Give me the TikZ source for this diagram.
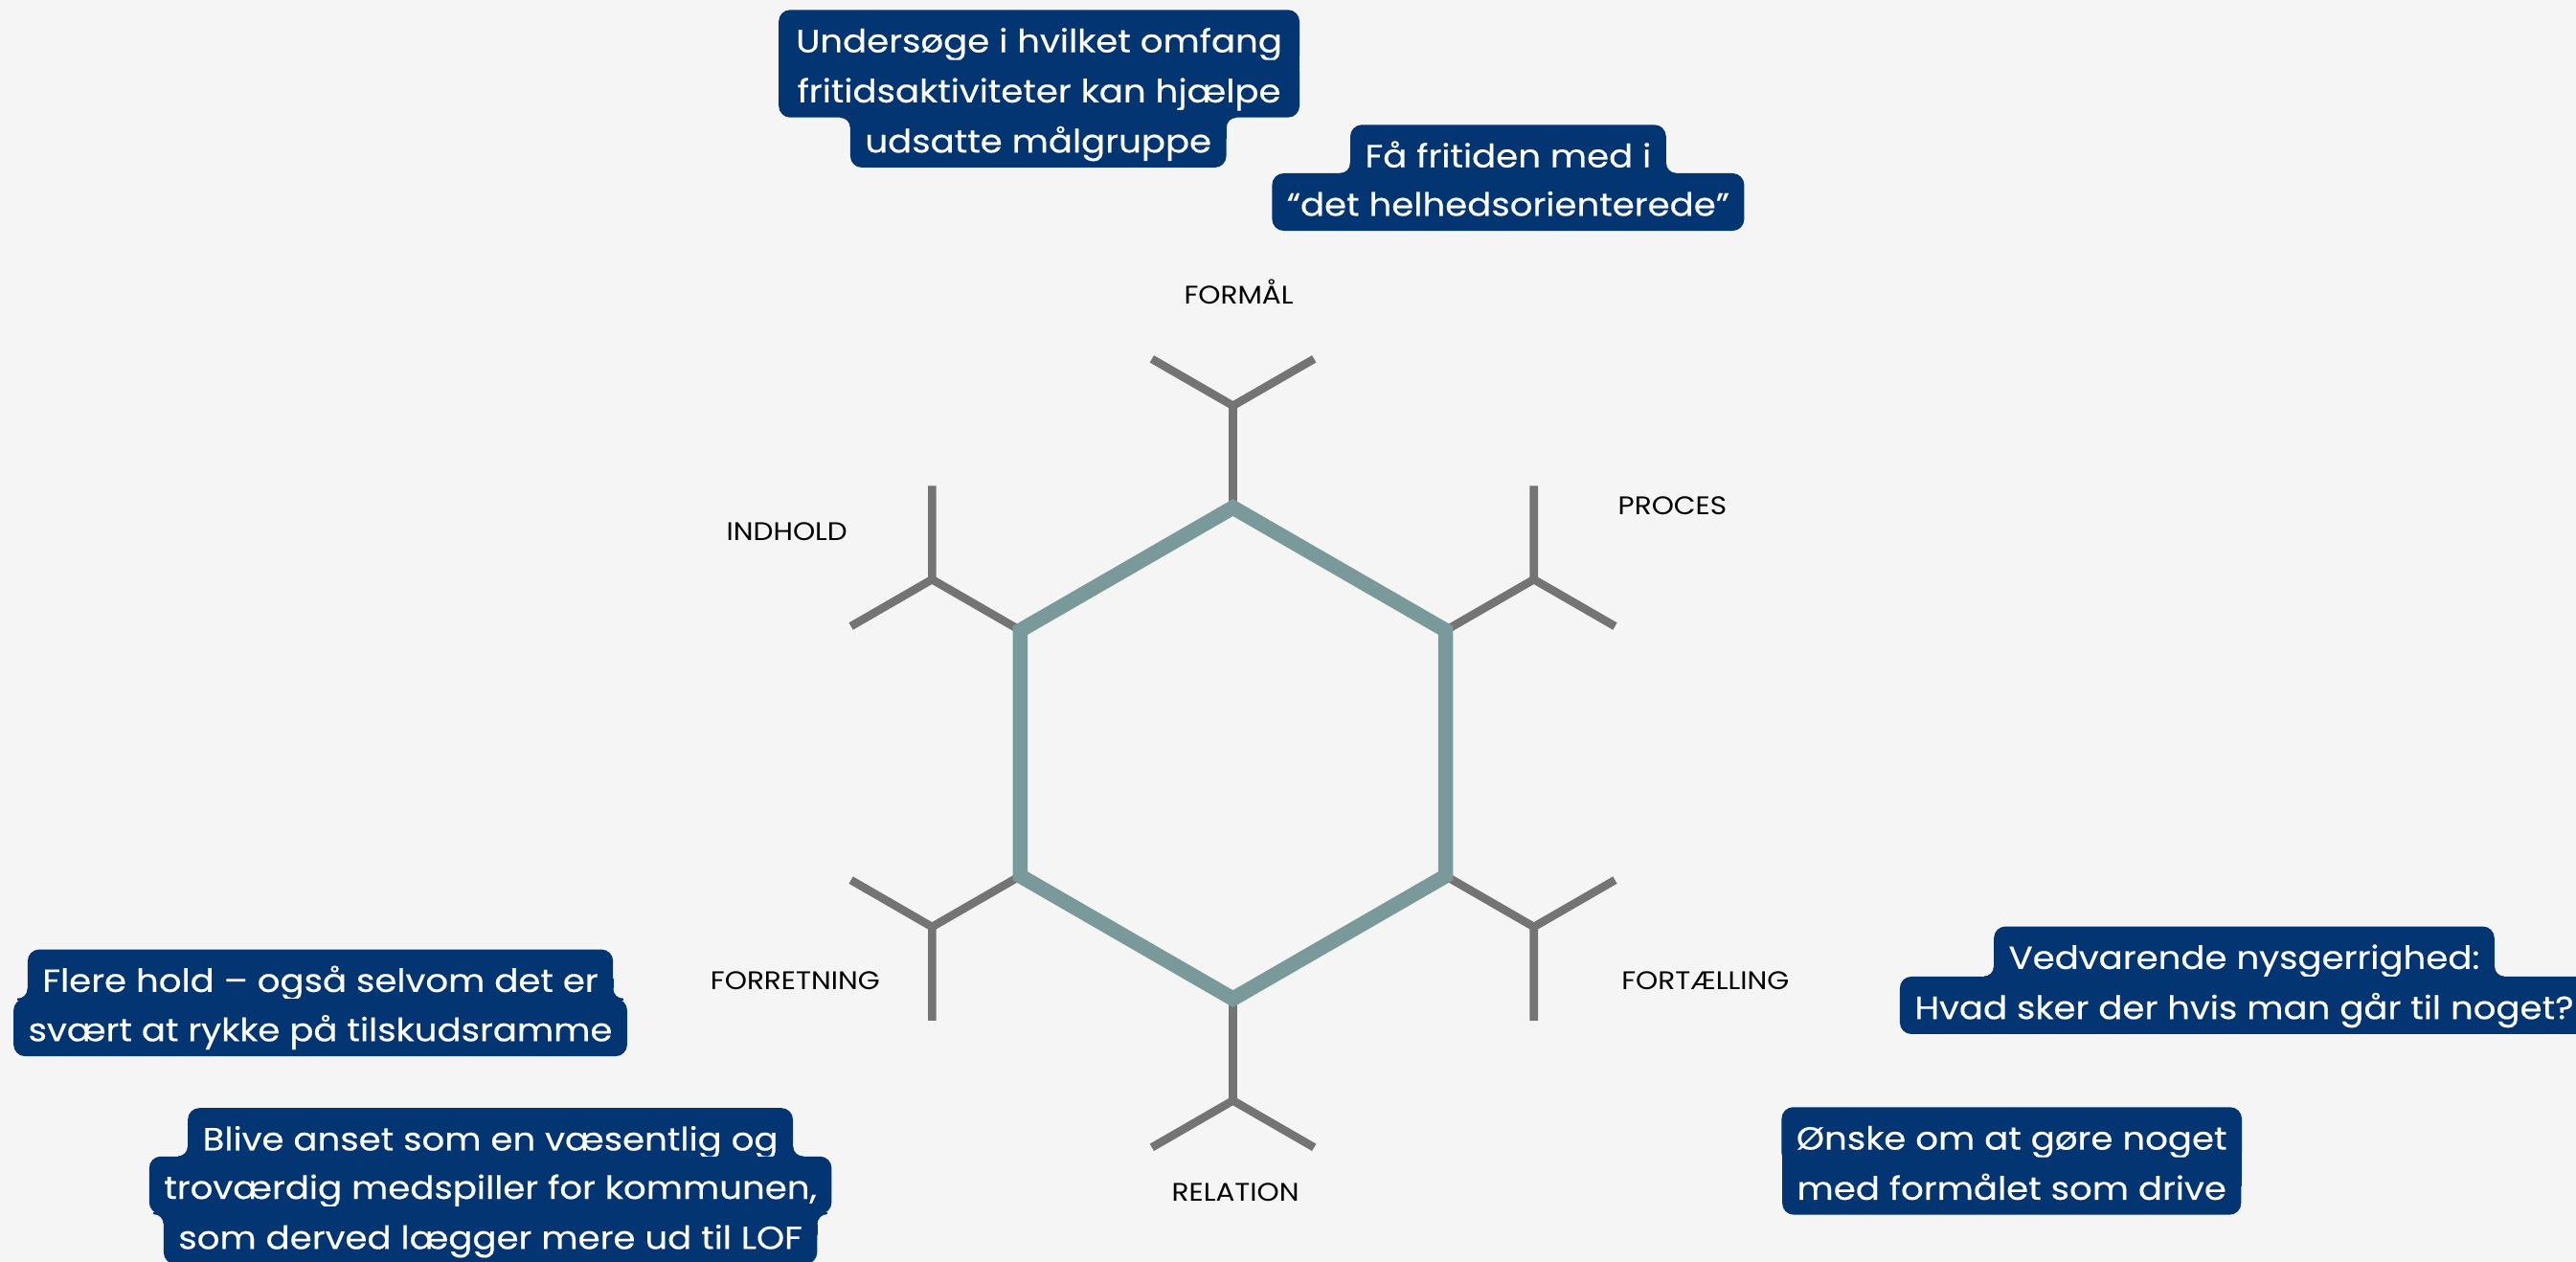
\documentclass[tikz,border=0pt]{standalone}
\usepackage{fontspec}
\setmainfont{Poppins}[FakeStretch=1.11]
\newfontfamily\boxfont{Poppins}[FakeStretch=1.11,FakeBold=0.4]
\usetikzlibrary{calc}
\definecolor{bgc}{RGB}{245,245,245}
\definecolor{navy}{RGB}{3,53,115}
\definecolor{hexc}{RGB}{122,153,154}
\definecolor{stubc}{RGB}{116,116,116}
\pgfdeclarelayer{back}
\pgfdeclarelayer{fillers}
\pgfsetlayers{back,fillers,main}
\newcommand{\joinrows}[2]{%
  \begin{pgfonlayer}{fillers}
  \fill[navy] let \p1=(#1.west),\p2=(#2.west),\p3=(#1.east),\p4=(#2.east) in
    ({max(\x1,\x2)},\y1) rectangle ({min(\x3,\x4)},\y2);
  \end{pgfonlayer}}
% concave fillets: narrow row above wide row
\newcommand{\filletNW}[2]{%
  \path let \p1=(#1.west),\p2=(#1.east),\p3=(#2.north) in
    coordinate (tmpL) at (\x1,\y3) coordinate (tmpR) at (\x2,\y3);
  \fill[navy] ($(tmpL)+(1.5,1.5)$) rectangle ($(tmpL)+(-6,-6)$);
  \fill[navy] ($(tmpR)+(-1.5,1.5)$) rectangle ($(tmpR)+(6,-6)$);
  \begin{scope}\clip (tmpL) rectangle ($(tmpL)+(-6.2,-6.2)$);
    \fill[bgc] ($(tmpL)+(-6,-6)$) circle[radius=6pt];\end{scope}
  \begin{scope}\clip (tmpR) rectangle ($(tmpR)+(6.2,-6.2)$);
    \fill[bgc] ($(tmpR)+(6,-6)$) circle[radius=6pt];\end{scope}}
% wide row above narrow row
\newcommand{\filletWN}[2]{%
  \path let \p1=(#2.west),\p2=(#2.east),\p3=(#1.south) in
    coordinate (tmpL) at (\x1,\y3) coordinate (tmpR) at (\x2,\y3);
  \fill[navy] ($(tmpL)+(1.5,-1.5)$) rectangle ($(tmpL)+(-6,6)$);
  \fill[navy] ($(tmpR)+(-1.5,-1.5)$) rectangle ($(tmpR)+(6,6)$);
  \begin{scope}\clip (tmpL) rectangle ($(tmpL)+(-6.2,6.2)$);
    \fill[bgc] ($(tmpL)+(-6,6)$) circle[radius=6pt];\end{scope}
  \begin{scope}\clip (tmpR) rectangle ($(tmpR)+(6.2,6.2)$);
    \fill[bgc] ($(tmpR)+(6,6)$) circle[radius=6pt];\end{scope}}
\begin{document}
\begin{tikzpicture}[x=1pt,y=-1pt,
  hl/.style={fill=navy,text=white,rounded corners=7pt,inner xsep=9pt,inner ysep=0pt,
    minimum height=35pt,text height=16.65pt,text depth=0pt,font=\boxfont\fontsize{19.5}{19.5}\selectfont,anchor=center},
  lbl/.style={text=black,inner sep=0pt,text height=10.5pt,text depth=0pt,font=\fontsize{15.5}{15.5}\selectfont,anchor=center},
  stubline/.style={draw=stubc,line width=5pt},
  hexline/.style={draw=hexc,line width=9pt,line join=miter}]
\begin{pgfonlayer}{back}
\fill[bgc] (0,0) rectangle (1568,768);
\end{pgfonlayer}
\useasboundingbox (0,0) rectangle (1568,768);
\coordinate (c) at (750.5,458.5);
% stubs
\foreach \i/\a in {1/90,2/30,3/-30,4/-90,5/-150,6/150}{
  \coordinate (v\i) at ($(c)+(\a:149.5)$);
  \coordinate (f\i) at ($(c)+(\a:211.5)$);
  \coordinate (p\i) at ($(f\i)+(\a+60:57)$);
  \coordinate (q\i) at ($(f\i)+(\a-60:57)$);
  \draw[stubline] (v\i) -- (f\i);
  \draw[stubline,line join=miter] (p\i) -- (f\i) -- (q\i);
}
\draw[hexline] (v1) -- (v2) -- (v3) -- (v4) -- (v5) -- (v6) -- cycle;
% labels
\node[lbl] (formaal) at (754,180) {FORMÅL};
\node[lbl] (proces) at (1018,308) {PROCES};
\node[lbl] (indhold) at (479,324) {INDHOLD};
\node[lbl] (forretning) at (484,597) {FORRETNING};
\node[lbl] (fortaelling) at (1038,597) {FORTÆLLING};
\node[lbl] (relation) at (752,726) {RELATION};
% text boxes
\node[hl,minimum width=317pt] (a1) at (632.5,23.5) {Undersøge i hvilket omfang};
\node[hl,minimum width=317pt] (a2) at (632.5,54) {fritidsaktiviteter kan hjælpe};
\node[hl] (a3) at (632,84.5) {udsatte målgruppe};
\joinrows{a1}{a2}\joinrows{a2}{a3}\filletWN{a2}{a3}
\node[hl] (b1) at (918,93.5) {Få fritiden med i};
\node[hl] (b2) at (918,123) {“det helhedsorienterede”};
\joinrows{b1}{b2}\filletNW{b1}{b2}
\node[hl] (c1) at (195,595.5) {Flere hold – også selvom det er};
\node[hl] (c2) at (195,625.5) {svært at rykke på tilskudsramme};
\joinrows{c1}{c2}\filletNW{c1}{c2}
\node[hl] (d1) at (298.5,692) {Blive anset som en væsentlig og};
\node[hl] (d2) at (298.5,721.5) {troværdig medspiller for kommunen,};
\node[hl] (d3) at (298.5,752) {som derved lægger mere ud til LOF};
\joinrows{d1}{d2}\joinrows{d2}{d3}\filletNW{d1}{d2}\filletWN{d2}{d3}
\node[hl] (e1) at (1366,581.5) {Vedvarende nysgerrighed:};
\node[hl] (e2) at (1366,612) {Hvad sker der hvis man går til noget?};
\joinrows{e1}{e2}\filletNW{e1}{e2}
\node[hl,minimum width=277pt] (g1) at (1224.5,691.5) {Ønske om at gøre noget};
\node[hl,minimum width=277pt] (g2) at (1224.5,722) {med formålet som drive};
\joinrows{g1}{g2}
\end{tikzpicture}
\end{document}
